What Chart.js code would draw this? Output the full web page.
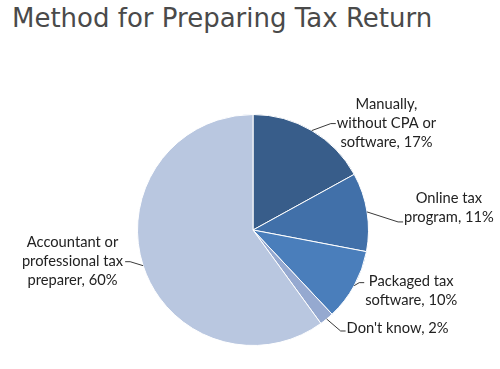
<!DOCTYPE html>
<html>
<head>
<meta charset="utf-8">
<script src="https://cdn.jsdelivr.net/npm/chart.js@4/dist/chart.umd.min.js"></script>
<style>
  html, body { margin: 0; padding: 0; background: #fff; }
  #wrap { position: relative; width: 500px; height: 369px; overflow: hidden; }
  #title { position: absolute; left: 12px; top: 2px; margin: 0; font-family: "DejaVu Sans", sans-serif; font-weight: normal; font-size: 26px; color: #4a4a4a; white-space: nowrap; line-height: 32px; }
  canvas { position: absolute; left: 0; top: 0; }
</style>
</head>
<body>
<div id="wrap">
  <h1 id="title">Method for Preparing Tax Return</h1>
  <canvas id="c" width="500" height="369"></canvas>
</div>
<script>
// ---- data ----
const categories = [
  ["Manually,", "without CPA or", "software"],
  ["Online tax", "program"],
  ["Packaged tax", "software"],
  ["Don't know"],
  ["Accountant or", "professional tax", "preparer"]
];
const values = [17, 11, 10, 2, 60];
const colors = ["#385D8A", "#4170A9", "#4A7EBB", "#95A9D0", "#B9C7E0"];

// label placement styling (offsets from slice edge, not data)
const labelLayout = [
  { dx: 24, dy: -7, side: "right", attach: 1, textDy: 0 },
  { dx: 36, dy: 10, side: "right", attach: 1, textDy: -5 },
  { dx: 10, dy: -3, side: "right", attach: 0, textDy: -1 },
  { dx: 19, dy: 12, side: "right", attach: 0, textDy: -3 },
  { dx: -18, dy: -4, side: "left", attach: 1, textDy: 0 }
];
const LABEL_FONT = '14.7px Lato, "Liberation Sans", sans-serif';
const LINE_H = 19;

const outerLabels = {
  id: "outerLabels",
  afterDraw(chart) {
    const ctx = chart.ctx;
    const meta = chart.getDatasetMeta(0);
    ctx.save();
    ctx.font = LABEL_FONT;
    ctx.textBaseline = "middle";
    meta.data.forEach((arc, i) => {
      const p = arc.getProps(["x", "y", "startAngle", "endAngle", "outerRadius"], true);
      const mid = (p.startAngle + p.endAngle) / 2;
      const ex = p.x + Math.cos(mid) * p.outerRadius;
      const ey = p.y + Math.sin(mid) * p.outerRadius;
      const L = labelLayout[i];
      const endX = ex + L.dx, endY = ey + L.dy;
      const tail = L.side === "right" ? -5 : 5;
      ctx.strokeStyle = "#3a3a3a";
      ctx.lineWidth = 1;
      ctx.beginPath();
      ctx.moveTo(ex, ey);
      ctx.lineTo(endX + tail, endY);
      ctx.lineTo(endX, endY);
      ctx.stroke();

      const lines = categories[i].slice();
      lines[lines.length - 1] = lines[lines.length - 1] + ", " + values[i] + "%";
      const maxW = Math.max(...lines.map(t => ctx.measureText(t).width));
      const cx = L.side === "right" ? endX + 1 + maxW / 2 : endX - 2 - maxW / 2;
      ctx.fillStyle = "#222";
      ctx.textAlign = "center";
      lines.forEach((t, k) => {
        ctx.fillText(t, cx, endY + L.textDy + (k - L.attach) * LINE_H);
      });
    });
    ctx.restore();
  }
};

new Chart(document.getElementById("c"), {
  type: "pie",
  data: {
    labels: categories,
    datasets: [{
      data: values,
      backgroundColor: colors,
      borderColor: "#ffffff",
      borderWidth: 1
    }]
  },
  options: {
    responsive: false,
    animation: false,
    layout: { padding: { left: 137, right: 131, top: 114, bottom: 23 } },
    plugins: {
      legend: { display: false },
      tooltip: { enabled: false },
      title: { display: false }
    }
  },
  plugins: [outerLabels]
});
</script>
</body>
</html>
